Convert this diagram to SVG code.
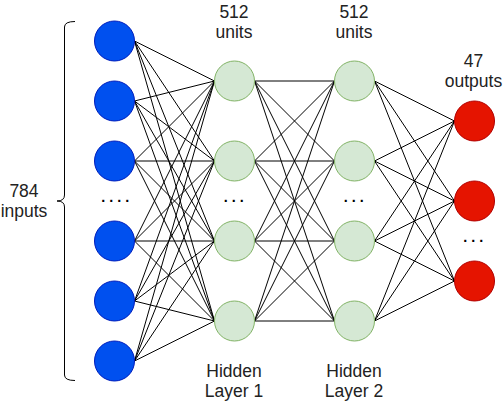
<svg xmlns="http://www.w3.org/2000/svg" width="504" height="402" viewBox="0 0 504 402">
<style>
.edge{stroke:#000;stroke-width:1;fill:none}
.inp{fill:#0050EF;stroke:#001DBC;stroke-width:1}
.hid{fill:#D5E8D4;stroke:#82B366;stroke-width:1}
.out{fill:#E51400;stroke:#B20000;stroke-width:1}
.lbl{font-family:"Liberation Sans",Arial,Helvetica,sans-serif;font-size:17.5px;fill:#222;text-anchor:middle}
.dots{font-family:"Liberation Sans",Arial,Helvetica,sans-serif;font-size:14.4px;font-weight:bold;fill:#000;text-anchor:middle}
</style>
<rect width="504" height="402" fill="#fff"/>
<g id="connectors">
<path class="edge" d="M134.5,41 L214.5,81 M134.5,41 L214.5,161 M134.5,41 L214.5,241 M134.5,41 L214.5,321
M134.5,101 L214.5,81 M134.5,101 L214.5,161 M134.5,101 L214.5,241 M134.5,101 L214.5,321
M134.5,161 L214.5,81 M134.5,161 L214.5,161 M134.5,161 L214.5,241 M134.5,161 L214.5,321
M134.5,241 L214.5,81 M134.5,241 L214.5,161 M134.5,241 L214.5,241 M134.5,241 L214.5,321
M134.5,301 L214.5,81 M134.5,301 L214.5,161 M134.5,301 L214.5,241 M134.5,301 L214.5,321
M134.5,361 L214.5,81 M134.5,361 L214.5,161 M134.5,361 L214.5,241 M134.5,361 L214.5,321"/>
<path class="edge" d="M254.5,81 L334.5,81 M254.5,81 L334.5,161 M254.5,81 L334.5,241 M254.5,81 L334.5,321
M254.5,161 L334.5,81 M254.5,161 L334.5,161 M254.5,161 L334.5,241 M254.5,161 L334.5,321
M254.5,241 L334.5,81 M254.5,241 L334.5,161 M254.5,241 L334.5,241 M254.5,241 L334.5,321
M254.5,321 L334.5,81 M254.5,321 L334.5,161 M254.5,321 L334.5,241 M254.5,321 L334.5,321"/>
<path class="edge" d="M374.5,81 L454.5,121 M374.5,81 L454.5,201 M374.5,81 L454.5,281
M374.5,161 L454.5,121 M374.5,161 L454.5,201 M374.5,161 L454.5,281
M374.5,241 L454.5,121 M374.5,241 L454.5,201 M374.5,241 L454.5,281
M374.5,321 L454.5,121 M374.5,321 L454.5,201 M374.5,321 L454.5,281"/>
</g>
<g id="bracket">
<path class="edge" d="M75,21.5 Q64.5,21.5 64.5,27 L64.5,195 Q64.5,201 57,201 Q64.5,201 64.5,207 L64.5,375 Q64.5,380.5 75,380.5"/>
</g>
<g id="inputs-label"><text class="lbl" x="24" y="196.5">784</text><text class="lbl" x="24" y="216.5">inputs</text></g>
<g id="in1"><circle class="inp" cx="114.5" cy="41" r="20"/></g>
<g id="in2"><circle class="inp" cx="114.5" cy="101" r="20"/></g>
<g id="in3"><circle class="inp" cx="114.5" cy="161" r="20"/></g>
<g id="in-dots"><text class="dots" x="115.3" y="202.3">. . . .</text></g>
<g id="in4"><circle class="inp" cx="114.5" cy="241" r="20"/></g>
<g id="in5"><circle class="inp" cx="114.5" cy="301" r="20"/></g>
<g id="in6"><circle class="inp" cx="114.5" cy="361" r="20"/></g>
<g id="h1-label"><text class="lbl" x="234" y="18.3">512</text><text class="lbl" x="234" y="38.3">units</text></g>
<g id="h1n1"><circle class="hid" cx="234.5" cy="81" r="20"/></g>
<g id="h1n2"><circle class="hid" cx="234.5" cy="161" r="20"/></g>
<g id="h1-dots"><text class="dots" x="233.7" y="201.8">. . .</text></g>
<g id="h1n3"><circle class="hid" cx="234.5" cy="241" r="20"/></g>
<g id="h1n4"><circle class="hid" cx="234.5" cy="321" r="20"/></g>
<g id="h1-name"><text class="lbl" x="234" y="377">Hidden</text><text class="lbl" x="234" y="397">Layer 1</text></g>
<g id="h2-label"><text class="lbl" x="354" y="18.3">512</text><text class="lbl" x="354" y="38.3">units</text></g>
<g id="h2n1"><circle class="hid" cx="354.5" cy="81" r="20"/></g>
<g id="h2n2"><circle class="hid" cx="354.5" cy="161" r="20"/></g>
<g id="h2-dots"><text class="dots" x="353.7" y="201.8">. . .</text></g>
<g id="h2n3"><circle class="hid" cx="354.5" cy="241" r="20"/></g>
<g id="h2n4"><circle class="hid" cx="354.5" cy="321" r="20"/></g>
<g id="h2-name"><text class="lbl" x="354" y="377">Hidden</text><text class="lbl" x="354" y="397">Layer 2</text></g>
<g id="out-label"><text class="lbl" x="473.5" y="66.7">47</text><text class="lbl" x="473.5" y="87">outputs</text></g>
<g id="o1"><circle class="out" cx="474.5" cy="121" r="20"/></g>
<g id="o2"><circle class="out" cx="474.5" cy="201" r="20"/></g>
<g id="out-dots"><text class="dots" x="473.3" y="242">. . .</text></g>
<g id="o3"><circle class="out" cx="474.5" cy="281" r="20"/></g>
</svg>
